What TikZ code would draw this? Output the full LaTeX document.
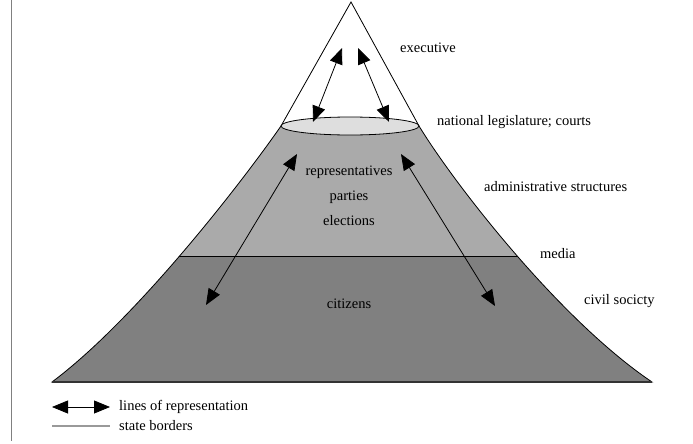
\documentclass[tikz,border=0pt]{standalone}
\usepackage{fontspec}
\setmainfont{Liberation Serif}
\usetikzlibrary{arrows.meta}
\definecolor{lowgray}{RGB}{128,128,128}
\definecolor{midgray}{RGB}{170,170,170}
\definecolor{topgray}{RGB}{222,222,222}
\newcommand{\mtnoutline}{(351,2) -- (281,126) .. controls (240,185) and (135,320) .. (52,382) -- (652,382) .. controls (560,320) and (455,185) .. (419,126) -- cycle}
\begin{document}
\begin{tikzpicture}[x=1pt, y=-1pt,
    rep/.style={{Triangle[length=16pt,width=13pt]}-{Triangle[length=16pt,width=13pt]}, thick},
    lbl/.style={font=\fontsize{14.5}{16}\selectfont, inner sep=0pt}]
    \useasboundingbox (0,0) rectangle (693,444);
    \draw[gray, thick] (11,0) -- (11,441);

    % Mountain
    \fill[lowgray] \mtnoutline;
    \begin{scope}
        \clip (0,0) rectangle (693,256);
        \fill[midgray] \mtnoutline;
    \end{scope}
    \fill[white] (351,2) -- (281,126) -- (419,126) -- cycle;
    \begin{scope}
        \clip \mtnoutline;
        \draw[thick] (0,256) -- (693,256);
    \end{scope}
    \draw[thick] \mtnoutline;
    \draw[line width=1.6pt, black!80] (52,382) -- (652,382);
    \draw[thick, fill=topgray] (350,126) ellipse [x radius=69, y radius=9];

    % Lines of representation
    \coordinate (legL) at (313,122);
    \coordinate (exeL) at (342,48);
    \coordinate (legR) at (389,122);
    \coordinate (exeR) at (358,48);
    \coordinate (repL) at (297,154);
    \coordinate (citL) at (206,305);
    \coordinate (repR) at (401,154);
    \coordinate (citR) at (495,306);
    \draw[rep] (legL) -- (exeL);
    \draw[rep] (legR) -- (exeR);
    \draw[rep] (repL) -- (citL);
    \draw[rep] (repR) -- (citR);

    % Labels
    \node[lbl] (rep) at (349,172) {representatives};
    \node[lbl] (par) at (349,197) {parties};
    \node[lbl] (ele) at (349,221) {elections};
    \node[lbl] (cit) at (349,304) {citizens};
    \node[lbl, anchor=west] (exe) at (400,48) {executive};
    \node[lbl, anchor=west] (nat) at (437,122) {national legislature; courts};
    \node[lbl, anchor=west] (adm) at (484,187) {administrative structures};
    \node[lbl, anchor=west] (med) at (540,254) {media};
    \node[lbl, anchor=west] (civ) at (584,301) {civil socicty};

    % Legend
    \coordinate (keyA) at (52,407);
    \coordinate (keyB) at (110,407);
    \coordinate (keyC) at (52,426);
    \coordinate (keyD) at (110,426);
    \draw[rep] (keyA) -- (keyB);
    \draw[gray!80, line width=1.6pt] (keyC) -- (keyD);
    \node[lbl, anchor=west] (lor) at (119,407) {lines of representation};
    \node[lbl, anchor=west] (sbo) at (119,426) {state borders};
\end{tikzpicture}
\end{document}
